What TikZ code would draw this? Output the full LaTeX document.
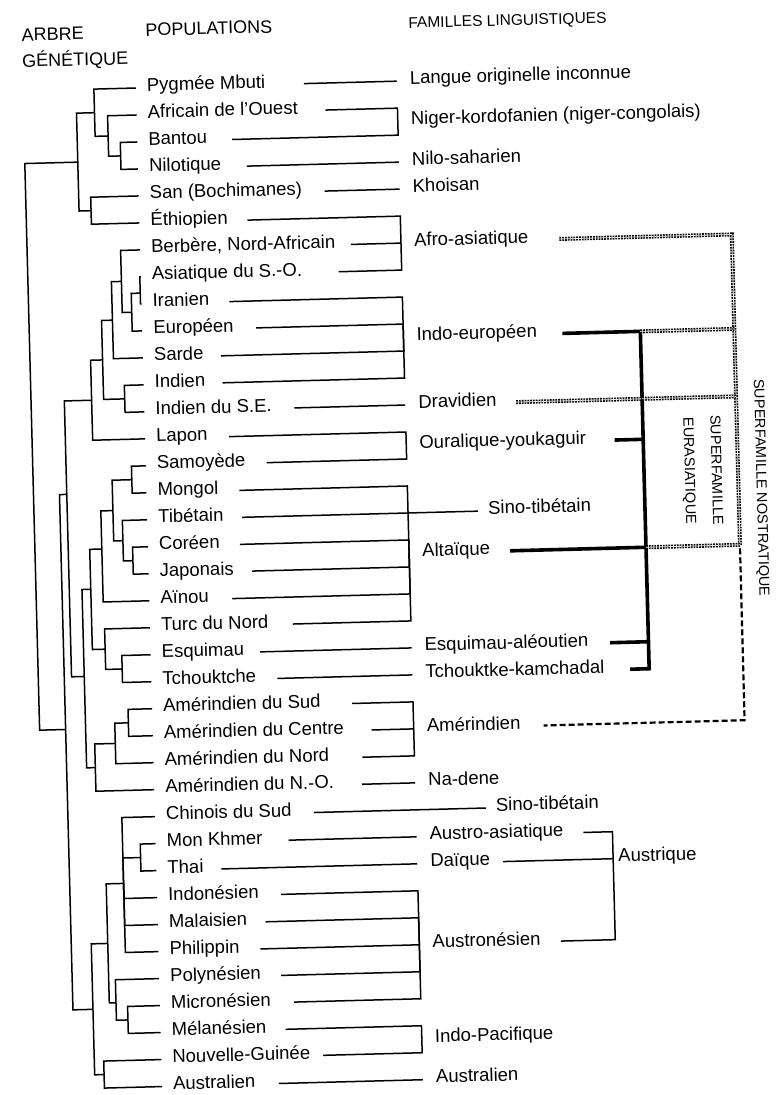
\documentclass[tikz,border=0pt]{standalone}
\usepackage{fontspec}
\setmainfont{Liberation Sans}
\newcommand\labfont{\fontsize{18.5}{22}\selectfont}
\newcommand\hdfont{\fontsize{18}{22}\selectfont}
\newcommand\hdsmall{\fontsize{15.5}{20}\selectfont}
\newcommand\vtfont{\fontsize{14.5}{27}\selectfont}
\begin{document}
\begin{tikzpicture}[x=1pt,y=-1pt,
  tl/.style={line width=1.5pt},
  bar/.style={line width=3.6pt},
  dotl/.style={line width=1.6pt,double=white,double distance=0.8pt,dash pattern=on 1.8pt off 1pt},
  dashl/.style={line width=2.2pt,dash pattern=on 6pt off 3pt},
  lab/.style={anchor=west,inner sep=0pt,text height=1.5ex,text depth=.25ex,font=\labfont},
  hd/.style={anchor=west,inner sep=0pt,text height=1.5ex,text depth=.25ex,font=\hdfont},
  vt/.style={inner sep=0pt,rotate=-90,font=\vtfont,align=center}]
\fill[white] (0,0) rectangle (780,1095);
\useasboundingbox (0,0) rectangle (780,1095);
\begin{scope}[shift={(0,1.5)},rotate around={1.5:(390,547)},transform shape]
% headers
\node[hd] (h1) at (35,27) {ARBRE};
\node[hd] (h2) at (35,53) {GÉNÉTIQUE};
\node[hd] (h3) at (159,25) {POPULATIONS};
\node[hd,font=\hdsmall] (h4) at (422,24) {FAMILLES LINGUISTIQUES};
% leaves
\foreach \i/\t/\s in {0/Pygmée Mbuti/316, 1/Africain de l’Ouest/337, 2/Bantou/243, 3/Nilotique/257,
  4/San (Bochimanes)/334, 5/Éthiopien/256, 6/{Berbère, Nord-Africain}/359, 7/Asiatique du S.-O./346,
  8/Iranien/236, 9/Européen/262, 10/Sarde/226, 11/Indien/227, 12/Indien du S.E./298, 13/Lapon/232,
  14/Samoyède/269, 15/Mongol/241, 16/Tibétain/243, 17/Coréen/240, 18/Japonais/251.5, 19/Aïnou/231,
  20/Turc du Nord/291, 21/Esquimau/257.5, 22/Tchouktche/274, 23/Amérindien du Sud/348,
  24/Amérindien du Centre/367, 25/Amérindien du Nord/357, 26/Amérindien du N.-O./356,
  27/Chinois du Sud/307, 28/Mon Khmer/281, 29/Thai/213, 30/Indonésien/272, 31/Malaisien/256,
  32/Philippin/250, 33/Polynésien/270, 34/Micronésien/282, 35/Mélanésien/273,
  36/Nouvelle-Guinée/310, 37/Australien/265}
{
  \pgfmathsetmacro\v{80+27*\i}
  \coordinate (l\i) at (148,\v);
  \coordinate (s\i) at (\s,\v);
  \node[lab] (p\i) at (159,\v) {\t};
}
% internal nodes of the tree
\coordinate (nV) at (131,147.5);
\coordinate (nU) at (119,127.25);
\coordinate (nT) at (106,103.6);
\coordinate (nW) at (100,201.5);
\coordinate (nS) at (88,152.6);
\coordinate (nX1) at (147,285.2);
\coordinate (nX2) at (138,304.1);
\coordinate (nX3) at (128.5,273);
\coordinate (nX4) at (118.5,311.5);
\coordinate (nX5) at (128.7,390.5);
\coordinate (nX6) at (107.6,351);
\coordinate (nX7) at (95.6,391);
\coordinate (nI) at (133.7,471.5);
\coordinate (nK) at (132.7,552.5);
\coordinate (nJ) at (123.2,532.25);
\coordinate (nH) at (114,501.9);
\coordinate (nG) at (101.9,540);
\coordinate (nF) at (119.1,660.5);
\coordinate (nE) at (102.6,640.25);
\coordinate (nD) at (89.8,580);
\coordinate (nAMc) at (123.9,714.5);
\coordinate (nAMb) at (110.3,734.75);
\coordinate (nAMa) at (89.7,758.4);
\coordinate (nC) at (81,667);
\coordinate (nA) at (68.3,484.5);
\coordinate (nP) at (132.6,849.5);
\coordinate (nO) at (114.9,874.9);
\coordinate (nR) at (115.7,1011.5);
\coordinate (nQ) at (104.2,994);
\coordinate (nN) at (97.5,934.5);
\coordinate (nM) at (90.4,1065.5);
\coordinate (nL) at (81,1000);
\coordinate (nB) at (61,719.5);
\coordinate (nRoot) at (35,400);
\foreach \p/\c in {nT/l0, nT/nU, nU/l1, nU/nV, nV/l2, nV/l3, nW/l4, nW/l5, nS/nT, nS/nW,
  nRoot/nS, nRoot/nB, nX1/l7, nX1/l8, nX2/nX1, nX2/l9, nX3/l6, nX3/nX2, nX4/nX3, nX4/l10,
  nX5/l11, nX5/l12, nX6/nX4, nX6/nX5, nX7/nX6, nX7/l13, nA/nX7, nA/nC,
  nI/l14, nI/l15, nK/l17, nK/l18, nJ/l16, nJ/nK, nH/nI, nH/nJ, nG/nH, nG/l19,
  nF/l21, nF/l22, nE/l20, nE/nF, nD/nG, nD/nE, nAMc/l23, nAMc/l24, nAMb/nAMc, nAMb/l25,
  nAMa/nAMb, nAMa/l26, nC/nD, nC/nAMa, nP/l28, nP/l29, nO/l27, nO/nP, nO/l30, nO/l31, nO/l32,
  nR/l34, nR/l35, nQ/l33, nQ/nR, nN/nO, nN/nQ, nM/l36, nM/l37, nL/nN, nL/nM, nB/nA, nB/nL}
  \draw[tl] (\p) |- (\c);
% family labels
\node[lab] (f0) at (422,80) {Langue originelle inconnue};
\node[lab] (f1) at (422,120.5) {Niger-kordofanien (niger-congolais)};
\node[lab] (f2) at (422,161) {Nilo-saharien};
\node[lab] (f3) at (422,188) {Khoisan};
\node[lab] (f4) at (422,242) {Afro-asiatique};
\node[lab] (f5) at (422,336.5) {Indo-européen};
\node[lab] (f6) at (422,404) {Dravidien};
\node[lab] (f7) at (422,444.5) {Ouralique-youkaguir};
\node[lab] (f8) at (489,512) {Sino-tibétain};
\node[lab] (f9) at (422,552.5) {Altaïque};
\node[lab] (f10) at (422,647) {Esquimau-aléoutien};
\node[lab] (f11) at (422,674) {Tchouktke-kamchadal};
\node[lab] (f12) at (422,728) {Amérindien};
\node[lab] (f13) at (422,782) {Na-dene};
\node[lab] (f14) at (489,809) {Sino-tibétain};
\node[lab] (f15) at (422,836) {Austro-asiatique};
\node[lab] (f16) at (422,863) {Daïque};
\node[lab] (f17) at (422,944) {Austronésien};
\node[lab] (f18) at (422,1038.5) {Indo-Pacifique};
\node[lab] (f19) at (422,1079) {Australien};
\node[lab] (f20) at (610,863) {Austrique};
\node[vt] (nost) at (762,496) {SUPERFAMILLE NOSTRATIQUE};
\node[vt] (eura) at (704,477) {SUPERFAMILLE\\EURASIATIQUE};
% population -> family connectors
\coordinate (b1) at (409,120.5);
\coordinate (b4) at (409,242);
\coordinate (b5) at (409,336.5);
\coordinate (b7) at (409,444.5);
\coordinate (b9) at (409,552.5);
\coordinate (b12) at (409,728);
\coordinate (b17) at (409,944);
\coordinate (b18) at (409,1038.5);
\foreach \i/\b in {1/b1, 2/b1, 5/b4, 6/b4, 7/b4, 8/b5, 9/b5, 10/b5, 11/b5, 13/b7, 14/b7,
  15/b9, 17/b9, 18/b9, 19/b9, 20/b9, 23/b12, 24/b12, 25/b12, 30/b17, 31/b17, 32/b17, 33/b17, 34/b17,
  35/b18, 36/b18}
  \draw[tl] (s\i) -| (\b);
\foreach \i/\x in {0/409, 3/409, 4/409, 12/409, 16/479, 21/409, 22/409, 26/409, 27/479, 28/409, 29/409, 37/409}
{
  \pgfmathsetmacro\v{80+27*\i}
  \coordinate (e\i) at (\x,\v);
  \draw[tl] (s\i) -- (e\i);
}
% Austrique bracket
\coordinate (bA) at (605,863);
\coordinate (aAA) at (576,836);
\coordinate (aD) at (495,863);
\coordinate (aAN) at (550.5,944);
\draw[tl] (aAA) -| (bA);
\draw[tl] (aD) -- (bA);
\draw[tl] (aAN) -| (bA);
% Eurasiatic superfamily (thick)
\coordinate (tIE) at (568,336.5);
\coordinate (cIE) at (646,336.5);
\coordinate (tOY) at (617.5,444.5);
\coordinate (cOY) at (646,444.5);
\coordinate (tAL) at (510,552.5);
\coordinate (cAL) at (646,552.5);
\coordinate (tEA) at (607.6,647);
\coordinate (cEA) at (646,647);
\coordinate (tTK) at (627,674);
\coordinate (cTK) at (646,674);
\draw[bar] (tIE) -- (cIE) -- (cTK) -- (tTK);
\draw[bar] (tOY) -- (cOY);
\draw[bar] (tAL) -- (cAL);
\draw[bar] (tEA) -- (cEA);
% Nostratic superfamily (dotted / dashed)
\coordinate (dAF) at (567.5,242);
\coordinate (kN1) at (740,242);
\coordinate (kIE) at (740,336.5);
\coordinate (dDR) at (520,404);
\coordinate (kDR) at (740,404);
\coordinate (kN2) at (740,552.5);
\coordinate (kN3) at (740,556);
\coordinate (kAM) at (740,728);
\coordinate (dAM) at (539,728);
\draw[dotl] (dAF) -- (kN1) -- (kN2);
\draw[dotl] (cIE) -- (kIE);
\draw[dotl] (dDR) -- (kDR);
\draw[dotl] (cAL) -- (kN2);
\draw[dashl] (kN3) -- (kAM) -- (dAM);
\end{scope}
\end{tikzpicture}
\end{document}
